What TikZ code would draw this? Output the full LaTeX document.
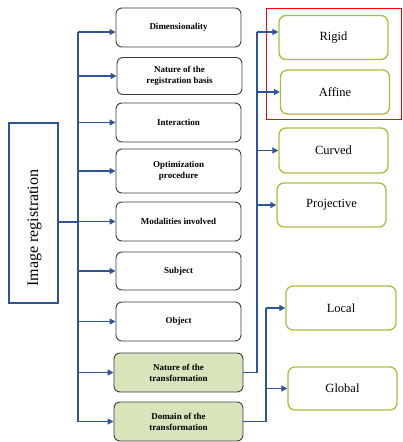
\documentclass[tikz,border=0pt]{standalone}
\usepackage{fontspec}
\setmainfont{Liberation Serif}
\usetikzlibrary{arrows.meta}
\definecolor{linkblue}{RGB}{47,85,151}
\definecolor{leafgreen}{RGB}{216,228,188}
\definecolor{leafline}{RGB}{166,190,62}
\definecolor{boxgray}{RGB}{60,60,60}
\begin{document}
\begin{tikzpicture}[x=1pt, y=-1pt,
  crit/.style={draw=boxgray, line width=0.9pt, rounded corners=6pt, minimum width=125pt, minimum height=39pt, align=center, font=\bfseries\fontsize{9}{11}\selectfont},
  critg/.style={crit, fill=leafgreen, minimum width=129pt},
  kind/.style={draw=leafline, line width=1.3pt, rounded corners=7pt, minimum width=109pt, minimum height=44pt, font=\fontsize{12.5}{14}\selectfont},
  link/.style={draw=linkblue, line width=1.5pt},
  arr/.style={link, -{Triangle[length=6pt, width=6pt]}}]
\useasboundingbox (0,0) rectangle (402,442);
\node[draw=linkblue, line width=1.2pt, minimum width=49pt, minimum height=180pt] (imgreg) at (33.5,213){};
\node[rotate=90, font=\fontsize{16}{18}\selectfont] (imgregtext) at (34.5,228){Image registration};
\node[crit] (dim) at (178.5,27.5){Dimensionality};
\node[crit, minimum height=37pt] (basis) at (179.5,76){Nature of the\\registration basis};
\node[crit] (inter) at (178.5,122.5){Interaction};
\node[crit, minimum height=44pt] (optim) at (178.5,171){Optimization\\procedure};
\node[crit] (modal) at (178.5,221.5){Modalities involved};
\node[crit, minimum height=38pt] (subj) at (178.5,271){Subject};
\node[crit] (obj) at (178.5,321.5){Object};
\node[critg] (ntrans) at (178.5,372.5){Nature of the\\transformation};
\node[critg] (dtrans) at (178.5,421.5){Domain of the\\transformation};
\node[kind] (rigid) at (333.5,37.5){Rigid};
\node[kind] (affine) at (335,92){Affine};
\node[kind, minimum height=45pt] (curved) at (333.5,150.5){Curved};
\node[kind] (proj) at (331.5,205){Projective};
\node[kind, minimum width=110pt] (local) at (341,308){Local};
\node[kind, minimum width=109pt, minimum height=43pt] (global) at (342.5,388.5){Global};
\draw[red, line width=1pt] (266,8) rectangle (401,119);
% first level
\coordinate (trk1) at (78,0);
\draw[link] ([yshift=-9pt]imgreg.east) -- ([yshift=-9pt]imgreg.east -| trk1);
\draw[link] ([yshift=-4.5pt]dim.west -| trk1) -- (dtrans.west -| trk1);
\draw[arr] ([yshift=-4.5pt]dim.west -| trk1) -- ([yshift=-4.5pt]dim.west);
\foreach \n in {basis,inter,optim,modal,subj,obj,ntrans,dtrans}
  \draw[arr] (\n.west -| trk1) -- (\n.west);
% nature of the transformation
\coordinate (trk2) at (257,0);
\draw[link] (ntrans.east) -- (ntrans.east -| trk2) -- ([yshift=5.5pt]rigid.west -| trk2);
\draw[arr] ([yshift=5.5pt]rigid.west -| trk2) -- ([yshift=5.5pt]rigid.west);
\foreach \n in {affine,curved,proj}
  \draw[arr] (\n.west -| trk2) -- (\n.west);
% domain of the transformation
\coordinate (trk3) at (266,0);
\draw[link] (dtrans.east) -- (dtrans.east -| trk3) -- (local.west -| trk3);
\foreach \n in {local,global}
  \draw[arr] (\n.west -| trk3) -- (\n.west);
\end{tikzpicture}
\end{document}
